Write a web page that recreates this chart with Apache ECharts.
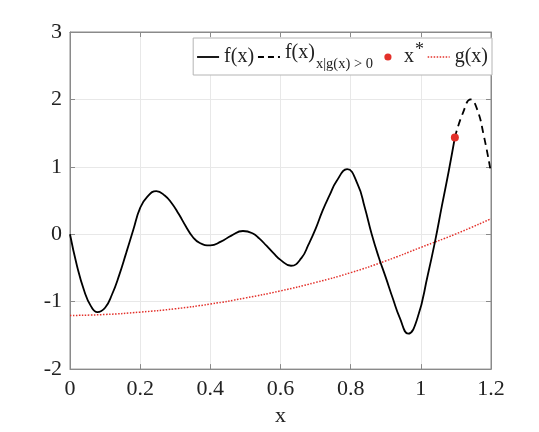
<!DOCTYPE html>
<html>
<head>
<meta charset="utf-8">
<script src="https://cdn.jsdelivr.net/npm/echarts@6/dist/echarts.min.js"></script>
<style>
  html, body { margin: 0; padding: 0; background: #fff; }
  #chart { width: 539px; height: 432px; }
</style>
</head>
<body>
<div id="chart"></div>
<script>
// f(x), solid part (g(x) <= 0), extrema included as read points
const solidX = [0, 0.02, 0.04, 0.06, 0.078, 0.10, 0.12, 0.14, 0.16, 0.18,
  0.20, 0.22, 0.246, 0.27, 0.29, 0.31, 0.33, 0.35, 0.37, 0.40,
  0.43, 0.46, 0.493, 0.52, 0.54, 0.56, 0.58, 0.60, 0.63, 0.66,
  0.68, 0.70, 0.72, 0.74, 0.76, 0.79, 0.82, 0.84, 0.86, 0.88,
  0.90, 0.92, 0.94, 0.964, 0.99, 1.02, 1.04, 1.06, 1.08, 1.097]
const solidY = [0, -0.47, -0.83, -1.07, -1.155, -1.09, -0.89, -0.61, -0.28, 0.06,
  0.39, 0.555, 0.64, 0.575, 0.46, 0.30, 0.12, -0.04, -0.13, -0.165,
  -0.11, -0.02, 0.048, 0.015, -0.065, -0.17, -0.28, -0.38, -0.467, -0.35,
  -0.15, 0.08, 0.35, 0.58, 0.79, 0.965, 0.74, 0.40, 0.00, -0.34,
  -0.64, -0.95, -1.24, -1.475, -1.25, -0.60, -0.12, 0.42, 0.95, 1.435]
// f(x), dashed part (g(x) > 0)
const dashX = [1.097, 1.12, 1.142, 1.16, 1.18, 1.20]
const dashY = [1.435, 1.80, 2.00, 1.86, 1.45, 0.91]
// constraint g(x)
const gX = [0, 0.1, 0.2, 0.3, 0.4, 0.5, 0.6, 0.7, 0.8, 0.9, 1.0, 1.1, 1.2]
const gY = [-1.205, -1.19, -1.155, -1.105, -1.035, -0.945, -0.84, -0.715, -0.57, -0.395, -0.195, 0.005, 0.23]
// optimum x*
const starX = [1.097]
const starY = [1.435]

const FONT = 'Liberation Serif'
const RED = '#e3302a'
const HIDE = { color: 'rgba(0,0,0,0)', borderWidth: 0 }

const pairs = (xs, ys) => xs.map((x, i) => [x, ys[i]])

const legendText = {
  f: '{m|f(x)}',
  fg: '{up|f(x)}{sub|x|g(x) > 0}',
  xs: '{m|x}{sup|*}',
  g: '{m|g(x)}'
}

const chart = echarts.init(document.getElementById('chart'), null, { renderer: 'canvas' })

const axisCommon = {
  axisLine: { onZero: false, lineStyle: { color: '#8a8a8a', width: 1 } },
  axisTick: { inside: true, length: 5, lineStyle: { color: '#8a8a8a' } }
}

chart.setOption({
  animation: false,
  backgroundColor: '#fff',
  grid: {
    left: 70, right: 48, top: 32, bottom: 61,
    show: true, borderColor: '#8a8a8a', borderWidth: 1
  },
  legend: {
    right: 47,
    top: 38,
    itemWidth: 22,
    itemHeight: 9,
    itemGap: 3,
    padding: [3, 4, 2, 3],
    borderColor: '#b4b4b4',
    borderWidth: 1,
    backgroundColor: '#fff',
    data: [
      { name: 'f', itemStyle: HIDE, lineStyle: { color: '#000', width: 1.8, type: 'solid' } },
      { name: 'fg', itemStyle: HIDE, lineStyle: { color: '#000', width: 1.8, type: [6, 4] } },
      { name: 'xs' },
      { name: 'g', itemStyle: HIDE, lineStyle: { color: RED, width: 1.5, type: [1.5, 1.5] } }
    ],
    formatter: name => legendText[name],
    textStyle: {
      fontFamily: FONT,
      color: '#222',
      fontSize: 20,
      rich: {
        m: { fontFamily: FONT, fontSize: 20, lineHeight: 22, color: '#222' },
        up: { fontFamily: FONT, fontSize: 20, lineHeight: 22, padding: [0, 0, 8, 0], color: '#222' },
        sub: { fontFamily: FONT, fontSize: 14.5, lineHeight: 16, padding: [14, 0, 0, 1], color: '#222' },
        sup: { fontFamily: FONT, fontSize: 18, lineHeight: 18, padding: [0, 0, 14, 1], color: '#222' }
      }
    }
  },
  xAxis: [{
    type: 'value',
    min: 0, max: 1.2, interval: 0.2,
    name: 'x',
    nameLocation: 'middle',
    nameGap: 33,
    nameTextStyle: { fontFamily: FONT, fontSize: 22, color: '#222' },
    axisLabel: { fontFamily: FONT, fontSize: 22, color: '#222', margin: 9 },
    splitLine: { show: true, lineStyle: { color: '#e8e8e8' } },
    ...axisCommon
  }, {
    type: 'value', position: 'top',
    min: 0, max: 1.2, interval: 0.2,
    axisLabel: { show: false },
    splitLine: { show: false },
    ...axisCommon
  }],
  yAxis: [{
    type: 'value',
    min: -2, max: 3, interval: 1,
    axisLabel: { fontFamily: FONT, fontSize: 22, color: '#222', margin: 8 },
    splitLine: { show: true, lineStyle: { color: '#e8e8e8' } },
    ...axisCommon
  }, {
    type: 'value', position: 'right',
    min: -2, max: 3, interval: 1,
    axisLabel: { show: false },
    splitLine: { show: false },
    ...axisCommon
  }],
  series: [
    {
      name: 'f',
      type: 'line',
      data: pairs(solidX, solidY),
      smooth: 0.5,
      symbol: 'none',
      lineStyle: { color: '#000', width: 1.8 },
      itemStyle: { color: '#000' },
      z: 3
    },
    {
      name: 'fg',
      type: 'line',
      data: pairs(dashX, dashY),
      smooth: 0.5,
      symbol: 'none',
      lineStyle: { color: '#000', width: 1.8, type: [7, 5] },
      itemStyle: { color: '#000' },
      z: 3
    },
    {
      name: 'xs',
      type: 'line',
      data: pairs(starX, starY),
      symbol: 'circle',
      symbolSize: 8,
      showSymbol: true,
      lineStyle: { opacity: 0 },
      itemStyle: { color: RED },
      z: 5
    },
    {
      name: 'g',
      type: 'line',
      data: pairs(gX, gY),
      smooth: 0.5,
      symbol: 'none',
      lineStyle: { color: RED, width: 1.5, type: [1.5, 1.5] },
      itemStyle: { color: RED },
      z: 2
    }
  ]
})
</script>
</body>
</html>
